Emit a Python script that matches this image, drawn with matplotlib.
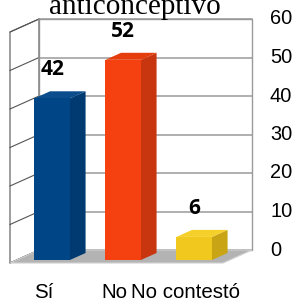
import numpy as np
import matplotlib.pyplot as plt
from matplotlib.patches import Polygon

categories = ['Sí', 'No', 'No contestó']
values = [42, 52, 6]
ticks = [0, 10, 20, 30, 40, 50, 60]
title = 'anticonceptivo'

front = ['#004586', '#f5410f', '#f0c81e']
side = ['#003a70', '#c8360f', '#c9a516']
top = ['#0a4c8c', '#e63d0d', '#f5d02a']

W, H = 296, 305
fig = plt.figure(figsize=(W / 100, H / 100), dpi=100)
# front plane of the 3d box, in pixels: x 10..223, y(0)=263, y(60)=32
ax = fig.add_axes([10 / W, (H - 263) / H, 213 / W, 231 / H])
ax.set_xlim(-0.5, 2.5)
ax.set_ylim(0, 60)
ax.axis('off')

# depth vector (29 px right, 13 px up) in data units
DX = 29 / (213 / 3)
DY = 13 / (231 / 60)
x0, x1 = -0.5, 2.5
ymax = ticks[-1]

def poly(pts, fc, ec='none', lw=0, z=1):
    ax.add_patch(Polygon(pts, closed=True, fc=fc, ec=ec, lw=lw, zorder=z, clip_on=False))

# back wall
poly([(x0 + DX, DY), (x1 + DX, DY), (x1 + DX, ymax + DY), (x0 + DX, ymax + DY)], 'white', '#9a9a9a', 1.0)
for t in ticks:
    ax.plot([x0 + DX, x1 + DX], [t + DY, t + DY], color='#9a9a9a', lw=1.1, zorder=2, clip_on=False)
# side wall
poly([(x0, 0), (x0 + DX, DY), (x0 + DX, ymax + DY), (x0, ymax)], 'white', '#555555', 0.8, 2)
for t in ticks:
    ax.plot([x0, x0 + DX], [t, t + DY], color='#555555', lw=0.8, zorder=2, clip_on=False)
ax.plot([x0 + DX, x0 + DX], [DY, ymax + DY], color='#9a9a9a', lw=1.1, zorder=2, clip_on=False)
# floor
poly([(x0, 0), (x1, 0), (x1 + DX, DY), (x0 + DX, DY)], '#b3b3b3', '#d0d0d0', 0.8, 3)

# bars
hw = 0.25
d0, d1 = 0.23, 0.77
for i, v in enumerate(values):
    fx = i + d0 * DX
    bx = i + d1 * DX
    poly([(fx + hw, d0 * DY), (bx + hw, d1 * DY), (bx + hw, v + d1 * DY), (fx + hw, v + d0 * DY)], side[i], z=4)
    poly([(fx - hw, v + d0 * DY), (fx + hw, v + d0 * DY), (bx + hw, v + d1 * DY), (bx - hw, v + d1 * DY)], top[i], z=4)
    poly([(fx - hw, d0 * DY), (fx + hw, d0 * DY), (fx + hw, v + d0 * DY), (fx - hw, v + d0 * DY)], front[i], z=5)
    ax.text(fx, v + d1 * DY + 5.6, str(v), ha='center', va='center', fontsize=15,
            fontweight='bold', family='Open Sans', zorder=6)
    ax.text(i - 0.03, -7.6, categories[i], ha='center', va='center', fontsize=14.8,
            family='Liberation Sans')

for t in ticks:
    ax.text(x1 + DX + 18 / (213 / 3), t + DY, str(t), ha='left', va='center',
            fontsize=14.4, family='Liberation Sans')

fig.text(135 / W, 1 - 13.5 / H, title, ha='center', va='baseline', fontsize=21,
         family='Liberation Serif')

fig.savefig('out.png', dpi=100)
